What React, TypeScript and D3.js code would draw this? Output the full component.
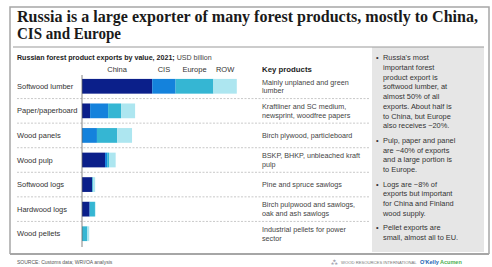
import React from "react";
import * as d3 from "d3";

const categories = [
  "Softwood lumber",
  "Paper/paperboard",
  "Wood panels",
  "Wood pulp",
  "Softwood logs",
  "Hardwood logs",
  "Wood pellets",
];
const regions = ["China", "CIS", "Europe", "ROW"];
// USD billion
const china = [3.9, 0.45, 0, 1.28, 0.57, 0.42, 0];
const cis = [1.3, 1.0, 0.83, 0.12, 0, 0.02, 0];
const europe = [2.1, 0.72, 1.13, 0.1, 0.06, 0.28, 0.3];
const row = [1.3, 0.78, 0.82, 0.37, 0.1, 0.03, 0.1];
const keyProducts = [
  ["Mainly unplaned and green", "lumber"],
  ["Kraftliner and SC medium,", "newsprint, woodfree papers"],
  ["Birch plywood, particleboard"],
  ["BSKP, BHKP, unbleached kraft", "pulp"],
  ["Pine and spruce sawlogs"],
  ["Birch pulpwood and sawlogs,", "oak and ash sawlogs"],
  ["Industrial pellets for power", "sector"],
];
const bullets = [
  [
    "Russia's most",
    "important forest",
    "product export is",
    "softwood lumber, at",
    "almost 50% of all",
    "exports. About half is",
    "to China, but Europe",
    "also receives ~20%.",
  ],
  ["Pulp, paper and panel", "are ~40% of exports", "and a large portion is", "to Europe."],
  ["Logs are ~8% of", "exports but important", "for China and Finland", "wood supply."],
  ["Pellet exports are", "small, almost all to EU."],
];

const colors = ["#0b1f8a", "#1482dc", "#35b6d3", "#ade6f0"];
const sans = "Liberation Sans, Arial, sans-serif";

const App = () => {
  const width = 492;
  const height = 267;

  const table = categories.map((c, i) => ({
    cat: c,
    China: china[i],
    CIS: cis[i],
    Europe: europe[i],
    ROW: row[i],
  }));
  const stacked = d3.stack<any>().keys(regions)(table);

  const x = d3.scaleLinear().domain([0, 10]).range([82, 262]);
  const y = d3
    .scaleBand()
    .domain(categories)
    .range([74, 246])
    .paddingInner(0.4)
    .paddingOuter(0.2);
  const step = y.step();

  let lineY = 57.5;
  const bulletLines: { t: string; y: number; first: boolean }[] = [];
  bullets.forEach((b) => {
    b.forEach((t, j) => {
      bulletLines.push({ t, y: lineY, first: j === 0 });
      lineY += 9.75;
    });
    lineY += 4.8;
  });

  return (
    <svg
      width={width}
      height={height}
      style={{ position: "absolute", left: 0, top: 0, background: "#fff" }}
    >
      {/* frame */}
      <path d="M10,254 V7 H489 V254" fill="none" stroke="#a6a6a6" strokeWidth={1.5} />
      <line x1={10} x2={489} y1={254} y2={254} stroke="#a6a6a6" strokeWidth={2} />

      <text
        fontFamily="Liberation Serif, serif"
        fontWeight="bold"
        fontSize={16}
        fill="#1a1a1a"
      >
        <tspan x={17} y={22} textLength={461} lengthAdjust="spacingAndGlyphs">
          Russia is a large exporter of many forest products, mostly to China,
        </tspan>
        <tspan x={17} y={38.5} textLength={104} lengthAdjust="spacingAndGlyphs">
          CIS and Europe
        </tspan>
      </text>

      {/* grey side box */}
      <rect x={372} y={47} width={112} height={205} fill="#e6e6e6" />
      <line x1={13} x2={484} y1={47} y2={47} stroke="#999" strokeWidth={1} />

      <text x={17} y={59.5} fontFamily={sans} fontSize={7.1} fill="#222">
        <tspan fontWeight="bold">Russian forest product exports by value, 2021;</tspan>
        <tspan fill="#444"> USD billion</tspan>
      </text>

      {/* column headers */}
      {stacked.map((s, k) => (
        <text
          key={regions[k]}
          x={(x(s[0][0]) + x(s[0][1])) / 2}
          y={72}
          textAnchor="middle"
          fontFamily={sans}
          fontSize={7.5}
          fill="#333"
        >
          {regions[k]}
        </text>
      ))}
      <text x={262} y={72} fontFamily={sans} fontSize={7.8} fontWeight="bold" fill="#222">
        Key products
      </text>

      {/* row separators */}
      {categories.slice(0, -1).map((c) => (
        <line
          key={c}
          x1={17}
          x2={370}
          y1={(y(c) as number) + y.bandwidth() / 2 + step / 2}
          y2={(y(c) as number) + y.bandwidth() / 2 + step / 2}
          stroke="#bbb"
          strokeWidth={0.8}
          strokeDasharray="2,1.5"
        />
      ))}

      {/* bars */}
      {stacked.map((s, k) => (
        <g key={regions[k]} fill={colors[k]}>
          {s.map((d, i) =>
            d[1] - d[0] > 0 ? (
              <rect
                key={i}
                x={x(d[0])}
                y={y(categories[i])}
                width={x(d[1]) - x(d[0])}
                height={y.bandwidth()}
              />
            ) : null
          )}
        </g>
      ))}
      <line x1={82} x2={82} y1={75} y2={247} stroke="#666" strokeWidth={0.8} />

      {/* category labels */}
      {categories.map((c) => (
        <text
          key={c}
          x={17}
          y={(y(c) as number) + y.bandwidth() / 2}
          dy="0.35em"
          fontFamily={sans}
          fontSize={7.5}
          fill="#333"
        >
          {c}
        </text>
      ))}

      {/* key products */}
      {keyProducts.map((lines, i) => {
        const cy = (y(categories[i]) as number) + y.bandwidth() / 2;
        return (
          <text key={i} fontFamily={sans} fontSize={7.2} fill="#444">
            {lines.map((t, j) => (
              <tspan key={j} x={262} y={cy + (j - (lines.length - 1) / 2) * 8.6} dy="0.35em">
                {t}
              </tspan>
            ))}
          </text>
        );
      })}

      {/* bullets */}
      {bulletLines.map((l, i) => (
        <g key={i} fontFamily={sans} fontSize={7.4} fill="#333">
          {l.first && (
            <text x={376} y={l.y} dy="0.35em">
              •
            </text>
          )}
          <text x={383} y={l.y} dy="0.35em">
            {l.t}
          </text>
        </g>
      ))}

      {/* footer */}
      <text x={17} y={264} fontFamily={sans} fontSize={5} fill="#555">
        SOURCE: Customs data; WRI/OA analysis
      </text>
      <text x={331} y={264} fontFamily={sans} fontSize={6} fill="#889">
        ⁂
      </text>
      <text x={341} y={264} fontFamily={sans} fontSize={4.2} fill="#777">
        WOOD RESOURCES INTERNATIONAL
      </text>
      <text x={420} y={264} fontFamily={sans} fontSize={5.5} fontWeight="bold">
        <tspan fill="#1a5fb4">O'Kelly </tspan>
        <tspan fill="#4caf50">Acumen</tspan>
      </text>
    </svg>
  );
};

export default App;
